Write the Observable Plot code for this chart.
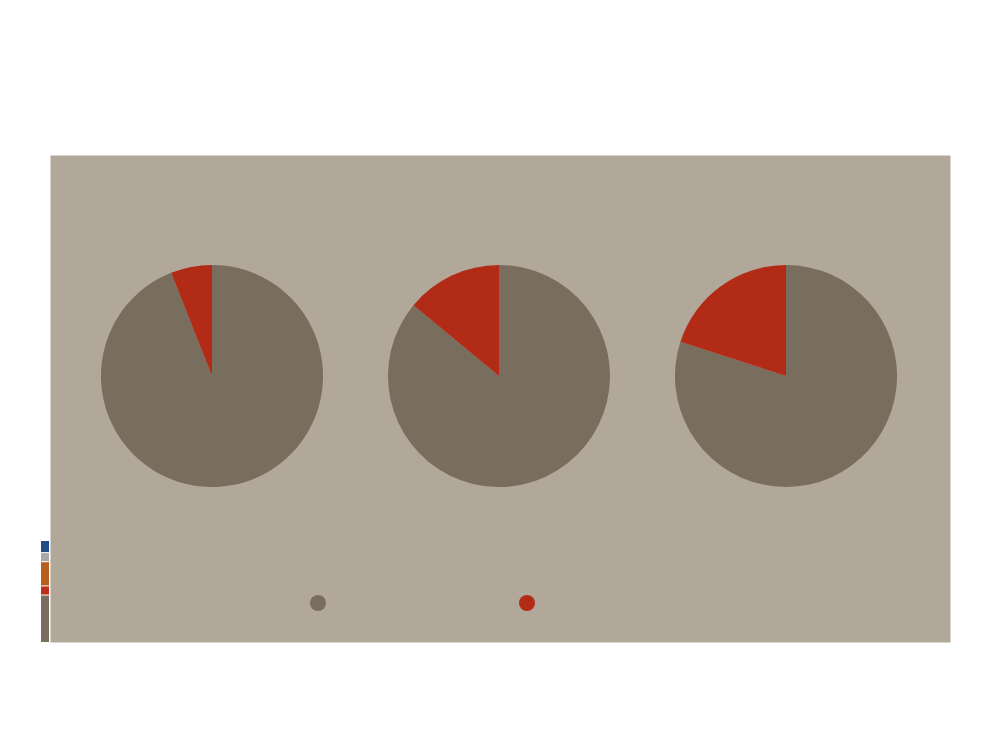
<!DOCTYPE html>
<html><head><meta charset="utf-8">
<script src="https://cdn.jsdelivr.net/npm/d3@7"></script>
<script src="https://cdn.jsdelivr.net/npm/@observablehq/plot@0.6"></script>
<style>body{margin:0;background:#fff;} #chart svg{display:block}</style>
</head><body><div id="chart"></div>
<script>
// ---- data ----
const pies = ["Pie 1", "Pie 2", "Pie 3"];
const seriesNames = ["Rest", "Share"];
const restValues = [94, 86, 80];
const shareValues = [6, 14, 20];
const seriesColors = ["#796d5e", "#b22b17"];
const keyNames = ["k1", "k2", "k3", "k4", "k5"]; // bottom to top
const keyValues = [46, 9, 24, 9, 12];
const keyColors = ["#796d5e", "#b8301a", "#b55e1e", "#aba7a2", "#204e8a"];

const rows = pies.flatMap((p, i) => [
  {pie: p, series: seriesNames[0], value: restValues[i]},
  {pie: p, series: seriesNames[1], value: shareValues[i]}
]);

function pieMark(index, scales, values, dims) {
  const g = d3.create("svg:g");
  const radius = 111;
  const pie = d3.pie().sort(null).value(d => d.value);
  const arc = d3.arc().innerRadius(0).outerRadius(radius);
  for (const p of pies) {
    const slices = pie(rows.filter(r => r.pie === p));
    g.append("g")
      .attr("transform", `translate(${scales.x(p)},${scales.y("pies")})`)
      .selectAll("path").data(slices).join("path")
      .attr("d", arc)
      .attr("fill", d => scales.color(d.data.series));
  }
  // legend dots
  const lx = d3.scalePoint().domain(seriesNames).range([318, 527]);
  g.append("g").selectAll("circle").data(seriesNames).join("circle")
    .attr("cx", d => lx(d)).attr("cy", scales.y("legend")).attr("r", 8)
    .attr("fill", d => scales.color(d));
  // key strip at the left edge
  const ky = d3.scaleLinear().domain([0, d3.sum(keyValues)]).range([dims.height - dims.marginBottom, 541]);
  let cum = 0;
  const segs = keyValues.map((v, i) => { const s = {y0: cum, y1: cum + v, c: keyColors[i], n: keyNames[i]}; cum += v; return s; });
  g.append("g").selectAll("rect").data(segs).join("rect")
    .attr("x", dims.marginLeft - 9).attr("width", 8)
    .attr("y", d => ky(d.y1))
    .attr("height", (d, i) => ky(d.y0) - ky(d.y1) - (i === 0 ? 0 : 1))
    .attr("fill", d => d.c);
  return g.node();
}

const chart = Plot.plot({
  width: 1000,
  height: 750,
  marginLeft: 50,
  marginRight: 50,
  marginTop: 155,
  marginBottom: 108,
  x: {type: "point", domain: pies, padding: 0, insetLeft: 161, insetRight: 164, axis: null},
  y: {type: "point", domain: ["pies", "legend"], padding: 0, insetTop: 220.5, insetBottom: 39, axis: null},
  color: {domain: seriesNames, range: seriesColors},
  style: {background: "#fff"},
  marks: [
    Plot.frame({fill: "#b2a899", stroke: "none"}),
    Plot.dot(rows, {x: "pie", y: () => "pies", fill: "series", r: 0}),
    pieMark
  ]
});
document.getElementById("chart").append(chart);
</script>
</body></html>
